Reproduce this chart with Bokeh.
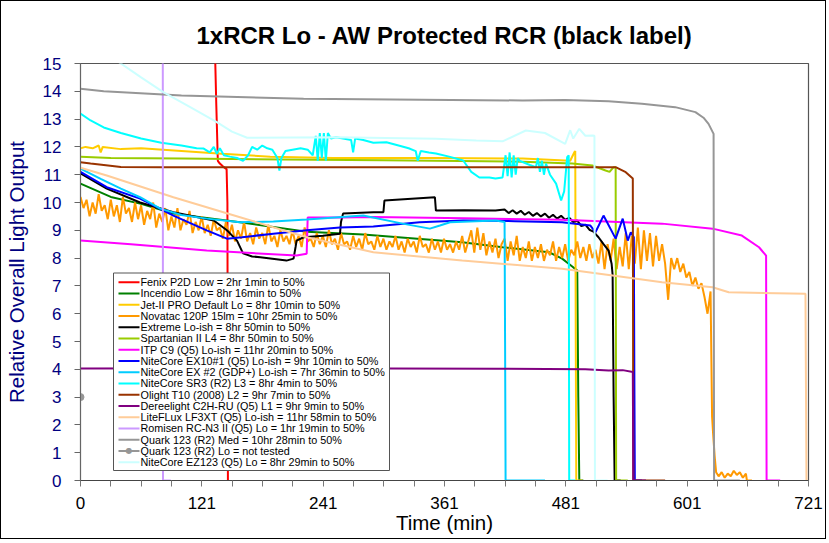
from bokeh.plotting import figure
from bokeh.models import Range1d, FixedTicker, Label, BoxAnnotation, Arrow, LinearAxis
from bokeh.embed import file_html
from bokeh.resources import INLINE

# ---------------- data (time in min, relative output) ----------------
fenix = [(133, 16.5), (133.5, 15.0), (134.5, 13.5), (136, 11.5), (138, 11.4), (141, 11.3),
         (144.7, 11.2), (145.5, 10.0), (146, 0.0)]
incendio = [(0, 10.68), (30, 10.2), (60, 9.95), (92, 9.6), (158, 9.29), (224, 8.95), (280, 8.85),
            (378, 8.57), (418, 8.39), (464, 8.21), (477, 7.98), (487, 7.7), (492, 7.55),
            (493, 3.0), (494, 0.0), (498, 0.0)]
jet2 = [(0, 11.95), (5, 12.0), (12, 11.95), (18, 12.05), (20, 11.8), (22, 12.0), (40, 11.92),
        (60, 11.95), (100, 11.85), (140, 11.75), (188, 11.65), (250, 11.6), (350, 11.6),
        (438, 11.58), (485, 11.5), (489, 11.8), (490, 11.85), (490.5, 5.0), (491, 0.0), (497, 0.0)]
novatac_vals = [
    10.2, 9.8, 10.1, 9.5, 10.0, 9.6, 10.3, 9.7, 9.9, 9.4,
    10.1, 9.5, 9.9, 9.3, 10.2, 9.6, 9.8, 9.3, 10.0, 9.4,
    9.9, 9.2, 9.7, 9.4, 10.0, 9.1, 9.6, 9.3, 9.8, 9.0,
    9.5, 9.1, 9.8, 9.0, 9.4, 9.2, 9.7, 8.9, 9.3, 9.0,
    9.5, 8.9, 9.2, 8.8, 9.4, 9.0, 9.1, 8.7, 9.3, 8.8,
    9.2, 8.6, 9.0, 8.7, 9.3, 8.6, 8.9, 8.5, 9.1, 8.7,
    8.9, 8.5, 9.2, 8.6, 8.8, 8.4, 9.0, 8.6, 8.8, 8.5,
    9.0, 8.5, 8.8, 8.4, 9.1, 8.6, 8.7, 8.4, 8.9, 8.5,
    8.8, 8.4, 9.0, 8.5, 8.7, 8.3, 8.9, 8.5, 8.6, 8.3,
    8.8, 8.4, 8.7, 8.3, 8.9, 8.5, 8.6, 8.3, 8.8, 8.4,
    8.7, 8.3, 8.6, 8.4, 8.8, 8.3, 8.6, 8.2, 8.7, 8.4,
    8.6, 8.2, 8.8, 8.4, 8.5, 8.2, 8.7, 8.3, 8.6, 8.2,
    8.7, 8.3, 8.5, 8.2, 8.6, 8.3, 8.8, 8.2, 8.6, 9.0,
    8.2, 9.1, 8.3, 8.9, 8.1, 8.6, 8.2, 8.7, 8.0, 8.5,
    8.7, 7.9, 8.6, 8.1, 8.8, 7.9, 8.4, 8.0, 8.6, 7.9,
    8.4, 8.0, 8.5, 7.9, 8.3, 8.1, 8.6, 7.9, 8.4, 8.0,
    8.5, 7.9, 8.3, 8.1, 8.6, 8.0, 8.4, 7.9, 8.5, 8.0,
    8.3, 7.8, 8.6, 7.6, 8.5, 7.9, 8.7, 7.6, 8.4, 7.7,
    8.9, 7.6, 8.8, 7.8, 9.1, 7.6, 9.0, 7.9, 8.9, 7.7,
    8.8, 7.9, 8.5, 7.8, 6.5, 8.0, 7.6, 8.0, 7.5, 7.8,
    7.3, 7.5, 7.0, 7.3, 6.9, 7.1, 6.6, 6.0, 6.8]
novatac_tail = [(625.5, 2.3), (626.5, 1.7), (628, 0.9), (629.5, 0.3), (632, 0.15), (635, 0.3),
                (638, 0.1), (641, 0.25), (644, 0.15), (647, 0.35), (650, 0.2), (653, 0.3),
                (656, 0.1), (659, 0.25), (660, 0.0), (665, 0.0)]
extreme = [(0, 11.05), (26, 10.5), (59, 10.0), (92, 9.65), (132, 9.35), (145, 9.0), (155, 8.63),
           (161, 8.17), (170, 8.06), (178, 8.03), (204, 7.91), (211, 7.98), (213, 8.4), (214, 8.63),
           (221, 8.75), (240, 8.8), (257, 8.88), (258, 9.3), (260, 9.6), (290, 9.65), (300, 9.65),
           (301, 10.07), (351, 10.19), (352, 9.71), (380, 9.72), (411, 9.71), (420, 9.75),
           (424, 9.62), (428, 9.72), (432, 9.6), (436, 9.7), (440, 9.56), (444, 9.66), (448, 9.52),
           (452, 9.62), (456, 9.5), (460, 9.6), (464, 9.45), (468, 9.56), (472, 9.42), (476, 9.52),
           (480, 9.38), (484, 9.45), (488, 9.3), (492, 9.35), (496, 9.15), (500, 9.2), (504, 9.02),
           (508, 8.95), (513, 8.75), (518, 8.5), (523, 8.27), (526, 7.8), (527, 7.4), (528, 3.0),
           (529, 0.0), (535, 0.0)]
spartanian = [(0, 11.65), (30, 11.6), (100, 11.58), (200, 11.55), (300, 11.52), (438, 11.47),
              (487, 11.4), (507, 11.33), (520, 11.15), (524, 11.1), (528, 11.27), (530, 11.27),
              (530.5, 0.0), (542, 0.0)]
itp = [(0, 8.63), (50, 8.5), (125, 8.27), (214, 8.09), (224, 8.16), (225, 9.46), (257, 9.46),
       (290, 9.48), (380, 9.43), (477, 9.38), (576, 9.24), (626, 9.06), (655, 8.81), (672, 8.39),
       (679, 8.09), (679.5, 0.0), (693, 0.0)]
ex10 = [(0, 11.1), (26, 10.55), (59, 10.14), (92, 9.53), (125, 9.0), (145, 8.7), (160, 8.75),
        (191, 8.88), (224, 9.0), (257, 9.1), (290, 9.14), (336, 9.29), (379, 9.35), (430, 9.33),
        (477, 9.29), (505, 9.17), (510, 8.93), (518, 9.53), (530, 8.7), (537, 9.42), (542, 8.63),
        (545, 8.93), (548, 8.75), (548.5, 4.0), (549, 0.0), (556, 0.0)]
ex2 = [(0, 11.22), (20, 10.85), (40, 10.5), (59, 10.19), (79, 9.78), (100, 9.55), (125, 9.42),
       (158, 9.29), (191, 9.32), (224, 9.39), (280, 9.53), (319, 9.24), (346, 9.06), (356, 9.17),
       (366, 9.29), (411, 9.35), (420, 9.3), (420.5, 5.0), (421, 0.0), (460, 0.0)]
sr3 = [(0, 13.2), (10, 12.95), (23, 12.7), (40, 12.5), (60, 12.3), (80, 12.15), (100, 12.05),
       (115, 11.95), (122, 11.94), (128, 11.8), (132, 12.0), (135, 11.75), (138, 11.95), (142, 11.7),
       (148, 11.65), (155, 11.6), (161, 11.5), (166, 11.7), (170, 12.0), (175, 11.9), (180, 12.05),
       (185, 11.95), (190, 11.9), (195, 11.6), (197, 11.15), (199, 11.6), (203, 11.85), (210, 11.9),
       (218, 11.95), (225, 11.9), (230, 11.7), (233, 12.4), (235, 11.5), (237, 12.5), (239, 11.6),
       (241, 12.5), (243, 11.5), (245, 12.5), (248, 12.3), (253, 12.35), (260, 12.3), (268, 12.25),
       (270, 11.8), (272, 12.3), (280, 12.25), (290, 12.15), (303, 12.17), (315, 12.05),
       (325, 11.95), (332, 11.85), (334, 11.5), (337, 11.85), (345, 11.8), (352, 11.76),
       (365, 11.65), (379, 11.51), (387, 11.1), (395, 10.9), (405, 10.9), (411, 10.86), (418, 10.9),
       (421, 11.7), (423, 10.95), (425, 11.8), (427, 10.9), (429, 11.7), (431, 11.0), (433, 11.6),
       (435, 11.5), (445, 11.35), (451, 11.27), (453, 11.6), (455, 11.1), (457, 11.5), (459, 11.0),
       (461, 11.4), (465, 11.0), (471, 10.68), (476, 10.07), (479, 10.4), (482, 11.63),
       (483.5, 11.7), (484, 0.0), (490, 0.0)]
olight = [(0, 11.45), (10, 11.4), (23, 11.35), (40, 11.28), (80, 11.27), (300, 11.27), (530, 11.27),
          (540, 11.09), (547, 10.86), (547.5, 0.0), (579, 0.0)]
dereelight = [(0, 4.03), (200, 4.04), (413, 4.02), (500, 4.0), (523, 3.96), (537, 3.97), (547, 3.9),
              (547.5, 0.0), (560, 0.0)]
liteflux = [(0, 11.25), (26, 10.97), (92, 10.19), (158, 9.47), (224, 8.75), (290, 8.21), (378, 7.91),
            (477, 7.62), (527, 7.37), (576, 7.13), (626, 6.95), (642, 6.77), (718, 6.72),
            (718.5, 3.3), (719, 0.0)]
romisen = [(0, 16.0), (81.5, 16.0), (81.7, 0.0), (89.5, 0.0)]
quark_med = [(0, 14.09), (23, 14.0), (100, 13.85), (221, 13.73), (438, 13.67), (480, 13.69),
             (523, 13.64), (556, 13.55), (589, 13.43), (609, 13.25), (617, 13.05), (622, 12.83),
             (627, 12.47), (627.5, 0.0), (653, 0.0)]
quark_lo = [(0, 3.0)]
ez123 = [(20, 15.5), (36, 15.1), (60, 14.5), (82, 13.97), (110, 13.4), (135, 12.89), (150, 12.55),
         (165, 12.33), (253, 12.35), (352, 12.29), (392, 12.23), (418, 12.2), (441, 12.59),
         (460, 12.5), (480, 12.11), (485, 12.6), (488, 12.3), (494, 12.65), (500, 12.4),
         (507, 12.41), (509, 12.4), (509.5, 0.0), (522, 0.0)]

novatac = list(zip(range(0, 627, 3), novatac_vals)) + novatac_tail

labels = ["Fenix P2D Low = 2hr 1min to 50%",
          "Incendio Low = 8hr 16min to 50%",
          "Jet-II PRO Default Lo = 8hr 10min to 50%",
          "Novatac 120P 15lm = 10hr 25min to 50%",
          "Extreme Lo-ish = 8hr 50min to 50%",
          "Spartanian II L4 = 8hr 50min to 50%",
          "ITP C9 (Q5) Lo-ish = 11hr 20min to 50%",
          "NiteCore EX10#1 (Q5) Lo-ish = 9hr 10min to 50%",
          "NiteCore EX #2 (GDP+) Lo-ish = 7hr 36min to 50%",
          "NiteCore SR3 (R2) L3 = 8hr 4min to 50%",
          "Olight T10 (2008) L2 = 9hr 7min to 50%",
          "Dereelight C2H-RU (Q5) L1 = 9hr 9min to 50%",
          "LiteFLux LF3XT (Q5) Lo-ish = 11hr 58min to 50%",
          "Romisen RC-N3 II (Q5) Lo = 1hr 19min to 50%",
          "Quark 123 (R2) Med = 10hr 28min to 50%",
          "Quark 123 (R2) Lo = not tested",
          "NiteCore EZ123 (Q5) Lo = 8hr 29min to 50%"]
colors = ["#FF0000", "#008000", "#FFCC00", "#FF9900", "#000000", "#99CC00", "#FF00FF",
          "#0000FF", "#00CCFF", "#00FFFF", "#993300", "#800080", "#FFCC99", "#CC99FF",
          "#969696", "#969696", "#CCFFFF"]
data = [fenix, incendio, jet2, novatac, extreme, spartanian, itp, ex10, ex2, sr3, olight,
        dereelight, liteflux, romisen, quark_med, quark_lo, ez123]

title_text = "1xRCR Lo - AW Protected RCR (black label)"
x_tick_labels = ["0", "121", "241", "361", "481", "601", "721"]
y_ticks = list(range(0, 16))

# ---------------- figure ----------------
FONT = "Liberation Sans"
p = figure(width=826, height=539, output_backend="svg", toolbar_location=None,
           x_range=Range1d(0, 721), y_range=Range1d(0, 15),
           min_border_left=76, min_border_right=19, min_border_top=62, min_border_bottom=60)
p.styles = {"border": "1px solid #000000"}
p.xgrid.visible = False
p.ygrid.visible = False
p.outline_line_color = "#555555"
p.outline_line_width = 1.2
p.background_fill_color = "white"
p.border_fill_color = "white"

# chart title carried by an "above" axis label (precise vertical placement)
top_axis = LinearAxis(ticker=FixedTicker(ticks=[]), axis_label=title_text,
                      axis_line_alpha=0, major_tick_out=0, major_tick_in=0,
                      minor_tick_out=0, minor_tick_in=0, major_label_standoff=0,
                      axis_label_standoff=15,
                      axis_label_text_font=FONT, axis_label_text_font_size="24px",
                      axis_label_text_font_style="bold", axis_label_text_color="#000000")
p.add_layout(top_axis, "above")

xticks = [721 * k / 24 for k in range(25)]
overrides = {t: "" for t in xticks}
for i, lab in enumerate(x_tick_labels):
    overrides[xticks[i * 4]] = lab
xa = p.below[0]
xa.ticker = FixedTicker(ticks=xticks)
xa.major_label_overrides = overrides
xa.major_tick_out = 6
xa.major_tick_in = 0
xa.minor_tick_out = 0
xa.minor_tick_in = 0
xa.axis_line_color = "#444444"
xa.major_tick_line_color = "#777777"
xa.major_label_text_font = FONT
xa.major_label_text_font_size = "17px"
xa.major_label_text_color = "#000000"
xa.major_label_standoff = 10
xa.axis_label = "Time (min)"
xa.axis_label_text_font = FONT
xa.axis_label_text_font_size = "20.5px"
xa.axis_label_text_font_style = "normal"
xa.axis_label_text_color = "#000000"
xa.axis_label_standoff = -1

ya = p.left[0]
ya.ticker = FixedTicker(ticks=y_ticks)
ya.major_tick_out = 6
ya.major_tick_in = 0
ya.minor_tick_out = 0
ya.minor_tick_in = 0
ya.axis_line_color = "#666666"
ya.major_tick_line_color = "#666666"
ya.major_label_text_font = FONT
ya.major_label_text_font_size = "17px"
ya.major_label_text_color = "#000080"
ya.major_label_standoff = 13
ya.axis_label = "Relative Overall Light Output"
ya.axis_label_text_font = FONT
ya.axis_label_text_font_size = "20.5px"
ya.axis_label_text_font_style = "normal"
ya.axis_label_text_color = "#000080"
ya.axis_label_standoff = 12

# series
for lab, col, pts in zip(labels, colors, data):
    ts = [a for a, b in pts]
    vs = [b for a, b in pts]
    p.line(ts, vs, line_color=col, line_width=2)
    if lab.endswith("not tested"):
        p.scatter(ts, vs, marker="circle", size=7, fill_color=col, line_color=col)

# legend drawn as annotations (screen px relative to frame bottom-left)
LEG_L, LEG_R, LEG_B, LEG_T = 33, 309, 10, 207.5
ROW0, ROW_STEP = 198.3, 11.25
p.add_layout(BoxAnnotation(left=LEG_L, right=LEG_R, bottom=LEG_B, top=LEG_T,
                           left_units="screen", right_units="screen",
                           bottom_units="screen", top_units="screen",
                           fill_color="white", fill_alpha=1.0,
                           line_color="#555555", line_width=1, line_alpha=1.0))
for i, (lab, col) in enumerate(zip(labels, colors)):
    yy = ROW0 - i * ROW_STEP
    p.add_layout(Arrow(x_start=LEG_L + 5, y_start=yy, x_end=LEG_L + 26, y_end=yy,
                       start_units="screen", end_units="screen", end=None,
                       line_color=col, line_width=2))
    if lab.endswith("not tested"):
        p.add_layout(Label(x=LEG_L + 15.5, y=yy, x_units="screen", y_units="screen",
                           text="\u25cf", text_font="DejaVu Sans", text_font_size="8px",
                           text_color=col, text_align="center", text_baseline="middle"))
    p.add_layout(Label(x=LEG_L + 27, y=yy, x_units="screen", y_units="screen", text=lab,
                       text_font=FONT, text_font_size="10.8px", text_color="#000000",
                       text_align="left", text_baseline="middle"))

p.add_layout(Label(x=586, y=-47, x_units="screen", y_units="screen",
                   text="\u00a9 www.sliderule.ca", text_font=FONT, text_font_size="14px",
                   text_color="#000000", text_baseline="middle"))

open("out.html", "w").write(file_html(p, INLINE))
